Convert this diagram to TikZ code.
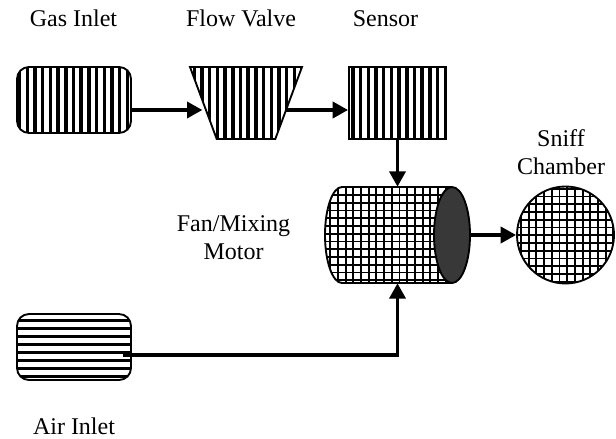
\documentclass[tikz,border=0pt]{standalone}
\usepackage{fontspec}
\setmainfont{Liberation Serif}
\usetikzlibrary{
	arrows.meta,
	shapes.geometric
}
\tikzset{
	x=0.75pt,
	y=-0.75pt,
	every edge/.append style={
		-{Triangle[length=11.5pt,width=12pt]},
		line width=2.6pt
	},
	part/.style={
		draw,
		line width=1.4pt,
		inner sep=0pt
	},
	vhatch/.style={
		path picture={
			\foreach \hx in {-10,...,10}
				\draw[line width=2.6pt] (\hx*7.7+#1,-60) -- (\hx*7.7+#1,60);
		}
	},
	hhatch/.style={
		path picture={
			\foreach \hy in {-6,...,6}
				\draw[line width=2.6pt] (-70,\hy*8+#1) -- (70,\hy*8+#1);
		}
	},
	chatch/.style 2 args={
		path picture={
			\begin{scope}[shift={(path picture bounding box.center)}]
				\foreach \hx in {-11,...,11}
					\draw[line width=1.4pt] (\hx*7.7+#1,-60) -- (\hx*7.7+#1,60);
				\foreach \hy in {-7,...,7}
					\draw[line width=1.4pt] (-90,\hy*7.75+#2) -- (90,\hy*7.75+#2);
			\end{scope}
		}
	},
	caption/.style={
		align=center,
		anchor=base,
		font=\fontsize{18}{21}\selectfont,
		inner sep=0pt
	}
}
\begin{document}
\begin{tikzpicture}
	\useasboundingbox (0,0) rectangle (616,438);
	\draw
		node [part,rounded corners=9pt,minimum width=85.5pt,minimum height=49.5pt,vhatch=-0.5] (gas) at (74,100) {}
		node [part,trapezium,shape border rotate=180,trapezium stretches=true,trapezium left angle=65.5,trapezium right angle=65.5,minimum width=84pt,minimum height=54pt,inner sep=1pt,vhatch=-5.5] (valve) at (246,103) {}
		node [part,minimum width=72.75pt,minimum height=54pt,vhatch=1.6] (sensor) at (397.5,103) {}
		node [minimum width=108.75pt,minimum height=72pt,inner sep=0pt] (fan) at (397.5,235) {}
	;
	% body of the fan, the end cap goes over it
	\draw[part,chatch={3.3}{-1.25}]
		(342,283) arc[start angle=270,end angle=90,x radius=12.75pt,y radius=36pt]
		-- (452,187) -- (452,283) -- cycle;
	\draw
		node [part,ellipse,fill=black!78,minimum width=27pt,minimum height=72pt] (fanend) at (452,235) {}
		node [part,circle,minimum size=72.75pt,chatch={1.7}{0.3}] (sniff) at (565.5,235) {}
		node [part,rounded corners=9pt,minimum width=85.5pt,minimum height=49.5pt,hhatch=5.5] (air) at (74,347) {}
		coordinate (valveout) at (286,110)
		coordinate (airout) at (123,355)

		node [caption] (gaslabel) at (73.5,27) {Gas Inlet}
		node [caption] (valvelabel) at (241,27) {Flow Valve}
		node [caption] (sensorlabel) at (385.5,27) {Sensor}
		node [caption] (fanlabel) at (233.5,259) {Fan/Mixing\\Motor}
		node [caption] (snifflabel) at (561,175) {Sniff\\Chamber}
		node [caption] (airlabel) at (74,434) {Air Inlet}

		(gas.east |- valveout) edge (valve.west |- valveout)
		(valveout) edge (sensor.west |- valveout)
		(sensor) edge (fan.north)
		(fanend.east) edge (sniff.west)
		(airout) edge[to path={-| (\tikztotarget)}] (fan.south)
	;
\end{tikzpicture}
\end{document}
